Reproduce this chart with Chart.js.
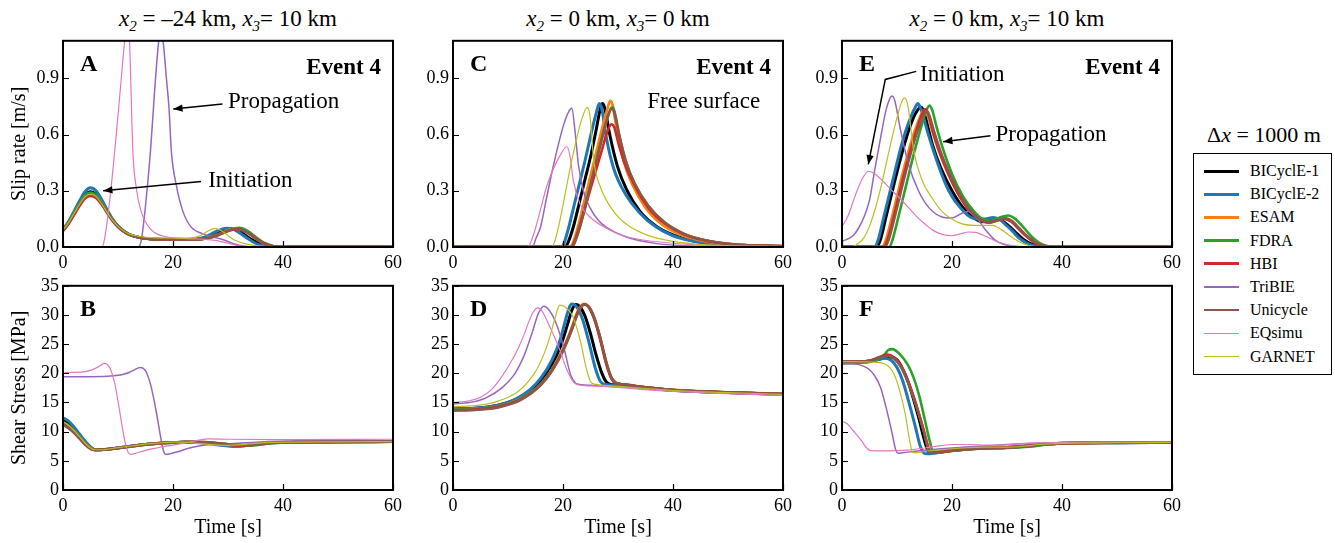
<!DOCTYPE html>
<html>
<head>
<meta charset="utf-8">
<script src="https://cdn.jsdelivr.net/npm/chart.js@4.4.0/dist/chart.umd.min.js"></script>
<style>
  body { margin: 0; width: 1335px; height: 543px; overflow: hidden; background: #fff; position: relative;
         font-family: "Liberation Serif", "Times New Roman", serif; color: #000; }
  canvas { position: absolute; }
  .coltitle { position: absolute; top: 4px; font-size: 23px; line-height: 30px; white-space: nowrap; transform: translateX(-50%); }
  .coltitle sub { font-size: 0.65em; vertical-align: -0.35em; line-height: 0; font-style: italic; }
  #legtitle { position: absolute; left: 1264px; top: 121px; font-size: 22px; line-height: 28px; white-space: nowrap; transform: translateX(-50%); }
  #legend { position: absolute; left: 1193px; top: 153px; width: 137px; height: 220px; border: 1.5px solid #000; }
  .row { position: absolute; left: 0; height: 22px; width: 137px; }
  .row span.ln { position: absolute; left: 10px; width: 35px; }
  .row span.tx { position: absolute; left: 56px; top: 0; font-size: 16px; line-height: 22px; white-space: nowrap; }
</style>
</head>
<body>
<div class="coltitle" style="left:228px"><i>x</i><sub>2</sub> = &ndash;24 km, <i>x</i><sub>3</sub>= 10 km</div>
<div class="coltitle" style="left:618px"><i>x</i><sub>2</sub> = 0 km, <i>x</i><sub>3</sub>= 0 km</div>
<div class="coltitle" style="left:1007px"><i>x</i><sub>2</sub> = 0 km, <i>x</i><sub>3</sub>= 10 km</div>

<canvas id="pA" width="406" height="251" style="left:1px;top:26px"></canvas>
<canvas id="pC" width="406" height="251" style="left:391px;top:26px"></canvas>
<canvas id="pE" width="406" height="251" style="left:780px;top:26px"></canvas>
<canvas id="pB" width="406" height="269" style="left:1px;top:271px"></canvas>
<canvas id="pD" width="406" height="269" style="left:391px;top:271px"></canvas>
<canvas id="pF" width="406" height="269" style="left:780px;top:271px"></canvas>

<div id="legtitle">&Delta;<i>x</i> = 1000 m</div>
<div id="legend"></div>

<script>
// series in legend order
const seriesNames = ['BICyclE-1', 'BICyclE-2', 'ESAM', 'FDRA', 'HBI', 'TriBIE', 'Unicycle', 'EQsimu', 'GARNET'];
const seriesColors = ['#000000', '#1f77b4', '#ff7f0e', '#2ca02c', '#d62728', '#9467bd', '#8c564b', '#e377c2', '#bcbd22'];
const seriesWidths = [3, 3, 2.7, 2.6, 2.6, 1.5, 2.6, 1.2, 1.2];

const timeTicks = [0, 20, 40, 60];
const slipTicks = [0, 0.3, 0.6, 0.9];
const stressTicks = [0, 5, 10, 15, 20, 25, 30, 35];

// A: slip rate, x2 = -24 km, x3 = 10 km   [time s, m/s]
const slipA = [
  [[0,0.09],[1,0.13],[2,0.18],[3,0.23],[4,0.275],[5,0.295],[6,0.28],[7,0.24],[8,0.19],[9,0.145],[10,0.11],[11,0.085],[12,0.068],[14,0.05],[16,0.043],[20,0.04],[24,0.042],[26,0.05],[28,0.075],[29,0.088],[30.5,0.097],[32,0.085],[33,0.066],[34,0.045],[35,0.028],[36,0.014],[37,0.006],[38.5,0.001],[40,0],[60,0]],
  [[0,0.095],[1,0.135],[2,0.19],[3,0.245],[4,0.295],[5,0.316],[6,0.3],[7,0.255],[8,0.2],[9,0.15],[10,0.112],[11,0.086],[12,0.068],[14,0.05],[16,0.043],[20,0.04],[24,0.043],[26,0.055],[27,0.07],[28,0.085],[29.8,0.1],[31,0.094],[32,0.078],[33,0.057],[34,0.037],[35,0.02],[36,0.009],[37.5,0.002],[39,0],[60,0]],
  [[0,0.088],[1,0.128],[2,0.178],[3,0.228],[4,0.27],[5,0.285],[6,0.272],[7,0.235],[8,0.187],[9,0.143],[10,0.108],[11,0.084],[12,0.067],[14,0.05],[16,0.043],[20,0.039],[24,0.04],[26,0.046],[28,0.065],[29,0.078],[30,0.09],[31.5,0.1],[33,0.088],[34,0.068],[35,0.046],[36,0.027],[37,0.013],[38,0.005],[39.5,0],[60,0]],
  [[0,0.09],[1,0.13],[2,0.18],[3,0.232],[4,0.275],[5,0.29],[6,0.277],[7,0.238],[8,0.19],[9,0.145],[10,0.11],[11,0.085],[12,0.068],[14,0.05],[16,0.043],[20,0.039],[24,0.04],[26,0.045],[28,0.06],[29,0.073],[30,0.086],[31,0.097],[32,0.102],[33,0.095],[34,0.077],[35,0.054],[36,0.033],[37,0.017],[38,0.007],[39,0.002],[40,0],[60,0]],
  [[0,0.085],[1,0.122],[2,0.17],[3,0.218],[4,0.258],[5,0.272],[6,0.262],[7,0.228],[8,0.183],[9,0.14],[10,0.107],[11,0.083],[12,0.066],[14,0.05],[16,0.043],[20,0.039],[24,0.04],[26,0.045],[28,0.062],[29,0.074],[30,0.085],[31.7,0.096],[33,0.086],[34,0.068],[35,0.047],[36,0.028],[37,0.014],[38,0.005],[39.5,0],[60,0]],
  [[0,0],[13.6,0],[14.2,0.03],[15,0.22],[15.9,0.51],[16.7,0.85],[17.4,1.1],[17.8,1.17],[18.2,1.1],[18.8,0.9],[19.3,0.73],[19.7,0.51],[20.6,0.33],[21.8,0.19],[23.3,0.106],[25.5,0.07],[27,0.055],[29,0.04],[31,0.018],[33,0.004],[35,0],[60,0]],
  [[0,0.087],[1,0.126],[2,0.175],[3,0.225],[4,0.266],[5,0.28],[6,0.268],[7,0.232],[8,0.185],[9,0.142],[10,0.108],[11,0.084],[12,0.067],[14,0.05],[16,0.043],[20,0.039],[24,0.04],[26,0.045],[28,0.062],[29,0.075],[30,0.087],[31.5,0.095],[33,0.085],[34,0.067],[35,0.046],[36,0.027],[37,0.013],[38,0.005],[39.5,0],[60,0]],
  [[0,0],[7.1,0],[7.6,0.05],[8.5,0.25],[9.4,0.51],[10.3,0.8],[11.2,1.1],[11.65,1.22],[12.1,1.1],[12.4,0.8],[12.7,0.51],[13.3,0.32],[14.2,0.19],[15.8,0.1],[18,0.06],[22,0.046],[26,0.04],[28,0.034],[30,0.02],[32,0.006],[34,0],[60,0]],
  [[0,0.09],[1,0.13],[2,0.18],[3,0.228],[4,0.268],[5,0.282],[6,0.27],[7,0.232],[8,0.186],[9,0.143],[10,0.11],[11,0.086],[12,0.07],[14,0.056],[16,0.05],[20,0.048],[23,0.047],[24.5,0.055],[25.5,0.07],[26.5,0.088],[27.5,0.098],[28.5,0.092],[29.5,0.072],[30.5,0.05],[31.5,0.033],[33,0.018],[35,0.007],[37,0.002],[38,0],[60,0]]
];

// B: shear stress, x2 = -24 km, x3 = 10 km   [time s, MPa]
const stressB = [
  [[0,11.9],[1,11.3],[2,10.4],[3,9.3],[4,8.2],[5,7.3],[5.8,6.9],[7,6.9],[10,7.2],[12,7.45],[14,7.7],[16,7.9],[18,8.05],[20,8.15],[22,8.2],[24,8.2],[26,8.1],[28,7.9],[30,7.65],[31.5,7.55],[33,7.6],[35,7.85],[38,8.1],[42,8.2],[50,8.25],[60,8.3]],
  [[0,12.4],[1,11.8],[2,10.8],[3,9.6],[4,8.4],[5,7.4],[5.8,6.9],[7,6.9],[10,7.2],[12,7.45],[14,7.7],[16,7.9],[18,8.05],[20,8.15],[22,8.2],[24,8.15],[26,8.0],[28,7.75],[30,7.55],[31,7.5],[33,7.65],[35,7.9],[38,8.1],[42,8.2],[50,8.25],[60,8.3]],
  [[0,11.6],[1,11.0],[2,10.1],[3,9.1],[4,8.0],[5,7.2],[5.8,6.9],[7,6.9],[10,7.2],[12,7.45],[14,7.7],[16,7.9],[18,8.05],[20,8.15],[22,8.2],[24,8.22],[26,8.15],[28,7.98],[30,7.75],[32,7.6],[33.5,7.62],[35.5,7.85],[38,8.1],[42,8.2],[50,8.25],[60,8.3]],
  [[0,11.6],[1,11.0],[2,10.1],[3,9.1],[4,8.0],[5,7.2],[5.8,6.9],[7,6.9],[10,7.2],[12,7.45],[14,7.7],[16,7.9],[18,8.05],[20,8.15],[22,8.2],[24,8.22],[26,8.18],[28,8.02],[30,7.8],[32,7.62],[34,7.6],[36,7.8],[38,8.05],[42,8.2],[50,8.25],[60,8.3]],
  [[0,11.2],[1,10.7],[2,9.9],[3,8.9],[4,7.9],[5,7.1],[5.8,6.85],[7,6.9],[10,7.2],[12,7.45],[14,7.7],[16,7.9],[18,8.05],[20,8.15],[22,8.2],[24,8.22],[26,8.15],[28,7.98],[30,7.75],[32,7.6],[33.5,7.62],[35.5,7.85],[38,8.1],[42,8.2],[50,8.25],[60,8.3]],
  [[0,19.4],[4,19.42],[8,19.5],[10,19.65],[11,19.85],[12,20.15],[13,20.6],[14,21.0],[14.6,20.85],[15.2,20.1],[16,17.8],[17,13.2],[17.8,8.8],[18.3,6.6],[18.7,6.1],[19.5,6.2],[21,6.6],[23,7.2],[25,7.6],[27,7.8],[30,7.9],[35,8.2],[40,8.35],[50,8.4],[60,8.4]],
  [[0,11.2],[1,10.6],[2,9.8],[3,8.8],[4,7.8],[5,7.05],[5.8,6.85],[7,6.9],[10,7.2],[12,7.45],[14,7.7],[16,7.9],[18,8.05],[20,8.15],[22,8.22],[24,8.25],[26,8.2],[28,8.05],[30,7.85],[32,7.7],[34,7.7],[36,7.9],[38,8.1],[42,8.2],[50,8.25],[60,8.3]],
  [[0,20.1],[2,20.15],[4,20.3],[5,20.5],[6,20.9],[7,21.45],[7.5,21.7],[8,21.55],[8.6,20.8],[9.4,18.3],[10.3,13.5],[11.2,8.6],[11.8,6.5],[12.3,6.1],[13,6.25],[15,6.8],[17,7.2],[19,7.55],[21,7.85],[23,8.2],[25,8.6],[26.5,8.75],[30,8.7],[40,8.65],[60,8.7]],
  [[0,11.7],[1,11.1],[2,10.2],[3,9.15],[4,8.05],[5,7.2],[5.8,6.9],[7,6.9],[10,7.25],[12,7.5],[14,7.75],[16,7.95],[18,8.1],[20,8.2],[22,8.2],[24,8.05],[26,7.85],[28,7.7],[30,7.65],[32,7.75],[35,8.0],[38,8.15],[42,8.2],[50,8.25],[60,8.3]]
];

// C: slip rate, x2 = 0 km, x3 = 0 km (free surface)
const slipC = [
  [[0,0],[20.4,0],[21,0.03],[22,0.12],[23,0.24],[24,0.36],[25,0.48],[26,0.62],[26.8,0.74],[27.2,0.765],[27.6,0.74],[28.5,0.6],[29.9,0.43],[31.5,0.31],[34,0.19],[37,0.11],[40,0.065],[44,0.03],[50,0.01],[60,0.003]],
  [[0,0],[19.8,0],[20.3,0.03],[21,0.1],[22,0.22],[23,0.34],[24,0.46],[25,0.59],[26,0.71],[26.6,0.765],[27.1,0.73],[27.9,0.58],[29.2,0.42],[31,0.3],[34,0.18],[37,0.105],[40,0.06],[44.8,0.025],[50,0.01],[60,0.003]],
  [[0,0],[21.3,0],[21.9,0.03],[23,0.14],[24,0.26],[25,0.38],[26,0.5],[27,0.62],[28,0.73],[28.6,0.78],[29,0.76],[29.8,0.62],[31,0.46],[32.5,0.34],[35,0.21],[38,0.12],[41,0.07],[45,0.035],[50,0.013],[60,0.004]],
  [[0,0],[21.6,0],[22.2,0.03],[23,0.1],[24,0.21],[25,0.33],[26,0.45],[27,0.57],[28,0.68],[28.7,0.74],[29,0.745],[29.4,0.72],[30.2,0.6],[31.4,0.46],[33,0.34],[35.5,0.22],[38.5,0.13],[42,0.07],[46,0.035],[52,0.012],[60,0.005]],
  [[0,0],[21.5,0],[22.1,0.03],[23,0.11],[24,0.21],[25,0.31],[26,0.41],[27,0.51],[28,0.61],[28.8,0.655],[29.3,0.64],[30.1,0.55],[31.3,0.44],[33,0.33],[35.5,0.21],[38.5,0.125],[42,0.068],[46,0.034],[52,0.012],[60,0.005]],
  [[0,0],[14.5,0],[15,0.04],[15.9,0.105],[17,0.26],[18.3,0.44],[20.1,0.65],[21,0.72],[21.6,0.74],[22.2,0.615],[22.8,0.44],[23.7,0.3],[24.9,0.21],[26.5,0.14],[27.9,0.105],[31.5,0.053],[37,0.018],[42,0.007],[50,0.002],[60,0]],
  [[0,0],[21.6,0],[22.2,0.03],[23,0.1],[24,0.21],[25,0.33],[26,0.45],[27,0.57],[28,0.68],[28.9,0.74],[29.4,0.71],[30.2,0.6],[31.4,0.46],[33,0.34],[35.5,0.22],[38.5,0.13],[42,0.07],[46,0.035],[52,0.012],[60,0.005]],
  [[0,0],[13.6,0],[14.2,0.03],[15,0.1],[16,0.21],[17,0.32],[18.3,0.42],[19.5,0.49],[20.7,0.536],[21.3,0.48],[21.9,0.35],[23.1,0.23],[24.9,0.16],[27.9,0.1],[31,0.06],[34,0.04],[40,0.02],[48,0.007],[60,0.002]],
  [[0,0],[17.9,0],[18.5,0.03],[19.5,0.15],[20.5,0.3],[21.5,0.45],[22.5,0.58],[23.5,0.69],[24.4,0.745],[24.9,0.7],[25.6,0.46],[26.8,0.32],[29.2,0.19],[31.6,0.12],[35.2,0.065],[40,0.03],[46,0.012],[60,0.003]]
];

// D: shear stress, x2 = 0 km, x3 = 0 km
const stressD = [
  [[0,13.9],[4,14.0],[8,14.5],[10,15.0],[12,15.8],[14,17.0],[16,18.8],[18,21.5],[19.5,24.5],[20.8,28.3],[21.6,30.8],[22.3,31.8],[23,31.5],[24,29.8],[25,26.8],[26,23.2],[27,20.2],[27.8,18.6],[28.5,18.15],[30,18.0],[35,17.5],[40,17.1],[50,16.7],[60,16.4]],
  [[0,13.9],[4,14.0],[8,14.5],[10,15.0],[12,15.9],[14,17.2],[16,19.2],[18,22.3],[19.5,25.8],[20.5,29.3],[21.1,31.2],[21.6,31.9],[22.3,31.6],[23.5,29.4],[24.7,25.4],[25.9,20.8],[26.8,18.6],[27.7,18.1],[30,17.95],[35,17.5],[40,17.1],[50,16.7],[60,16.4]],
  [[0,13.8],[4,13.9],[8,14.3],[10,14.8],[12,15.5],[14,16.6],[16,18.2],[18,20.7],[20,24.2],[21.5,27.6],[22.6,30.5],[23.3,31.6],[23.9,31.9],[24.6,31.5],[25.6,29.6],[26.7,26.2],[27.8,22.0],[28.8,19.2],[29.6,18.3],[31,18.1],[35,17.6],[40,17.15],[50,16.75],[60,16.45]],
  [[0,13.8],[4,13.9],[8,14.3],[10,14.8],[12,15.5],[14,16.6],[16,18.2],[18,20.6],[20,24.0],[21.5,27.4],[22.7,30.4],[23.4,31.5],[24,31.8],[24.7,31.4],[25.7,29.5],[26.8,26.0],[27.9,21.8],[28.9,19.1],[29.8,18.3],[31,18.1],[35,17.6],[40,17.15],[50,16.75],[60,16.45]],
  [[0,13.7],[4,13.8],[8,14.2],[10,14.7],[12,15.4],[14,16.5],[16,18.1],[18,20.5],[20,23.9],[21.5,27.3],[22.6,30.3],[23.3,31.5],[23.9,31.8],[24.6,31.4],[25.6,29.5],[26.7,26.0],[27.8,21.8],[28.8,19.1],[29.6,18.3],[31,18.1],[35,17.6],[40,17.15],[50,16.75],[60,16.45]],
  [[0,14.8],[3,15.0],[6,15.8],[9,17.6],[11,19.6],[12,21.2],[13,23.2],[14.4,27.0],[15.5,30.2],[16.5,31.5],[17.5,30.8],[18.7,28.7],[20.2,24.2],[21.4,19.7],[22.3,18.3],[23,18.1],[26,17.9],[30,17.7],[35,17.35],[40,17.0],[50,16.6],[60,16.3]],
  [[0,13.6],[4,13.7],[8,14.1],[10,14.6],[12,15.3],[14,16.4],[16,18.0],[18,20.4],[20,23.8],[21.5,27.2],[22.7,30.3],[23.4,31.5],[24,31.8],[24.7,31.4],[25.7,29.5],[26.8,26.0],[27.9,21.8],[28.9,19.1],[29.8,18.3],[31,18.1],[35,17.6],[40,17.15],[50,16.75],[60,16.45]],
  [[0,15.0],[3,15.3],[5,15.9],[7,17.2],[9,19.6],[11,22.7],[12,24.6],[13,26.8],[13.8,28.9],[14.6,30.5],[15.3,31.2],[16,30.9],[17.5,28.2],[19.3,24.3],[20.8,20.4],[22,18.4],[23,18.0],[26,17.8],[30,17.6],[35,17.2],[40,16.9],[50,16.5],[60,16.2]],
  [[0,14.3],[4,14.45],[7,14.9],[9,15.5],[12,17.0],[15,20.3],[16.5,23.2],[17.5,25.9],[18.5,29.3],[19.4,31.7],[20.3,31.4],[21.7,29.9],[23.2,25.4],[24.1,21.4],[25,18.6],[25.9,18.1],[28,17.9],[30,17.75],[35,17.4],[40,17.05],[50,16.7],[60,16.4]]
];

// E: slip rate, x2 = 0 km, x3 = 10 km
const slipE = [
  [[0,0],[6.3,0],[7,0.04],[8,0.16],[9,0.28],[10,0.4],[11,0.51],[12,0.61],[13,0.69],[14,0.74],[14.4,0.745],[14.9,0.72],[15.7,0.63],[16.5,0.54],[18,0.42],[20,0.3],[22,0.21],[24,0.155],[25.5,0.135],[27.3,0.15],[28.5,0.148],[30,0.12],[31.5,0.08],[33,0.04],[34.5,0.015],[36,0.003],[37,0],[60,0]],
  [[0,0],[5.9,0],[6.6,0.04],[7.6,0.16],[8.6,0.28],[9.6,0.4],[10.6,0.52],[11.6,0.62],[12.6,0.7],[13.4,0.75],[13.8,0.765],[14.3,0.74],[15.8,0.59],[17.6,0.43],[19.4,0.3],[21.8,0.2],[24.2,0.15],[26,0.15],[27.5,0.158],[28.8,0.145],[29.7,0.12],[31,0.085],[32.1,0.05],[33.5,0.022],[34.5,0.01],[36.4,0],[60,0]],
  [[0,0],[7.3,0],[8,0.04],[9,0.15],[10,0.27],[11,0.39],[12,0.5],[13,0.6],[14,0.68],[14.6,0.72],[15,0.73],[15.5,0.71],[16.3,0.63],[17.5,0.52],[19,0.41],[21,0.29],[23,0.2],[25,0.15],[26.5,0.135],[28,0.145],[29.5,0.155],[30.8,0.14],[32,0.105],[33.5,0.06],[35,0.025],[36.5,0.007],[38,0],[60,0]],
  [[0,0],[8.6,0],[9.2,0.04],[10,0.13],[11,0.25],[12,0.37],[13,0.49],[14,0.6],[15,0.7],[15.6,0.745],[15.9,0.755],[16.4,0.73],[17.2,0.64],[18.4,0.52],[20,0.39],[22,0.27],[24,0.19],[25.5,0.15],[27,0.14],[28.5,0.155],[30.2,0.168],[31.5,0.15],[33,0.105],[34.5,0.055],[36,0.02],[37.5,0.004],[39,0],[60,0]],
  [[0,0],[7.6,0],[8.3,0.04],[9.3,0.15],[10.3,0.27],[11.3,0.39],[12.3,0.5],[13.3,0.6],[14.3,0.69],[14.9,0.73],[15.2,0.735],[15.7,0.71],[16.5,0.62],[17.7,0.51],[19.2,0.4],[21,0.29],[23,0.2],[25,0.145],[26.5,0.13],[28,0.14],[29.5,0.15],[30.8,0.135],[32,0.1],[33.5,0.057],[35,0.024],[36.5,0.006],[38,0],[60,0]],
  [[0,0.03],[2,0.06],[3,0.1],[4,0.16],[5,0.25],[6,0.42],[7,0.58],[8,0.73],[8.6,0.785],[9.1,0.805],[9.6,0.78],[10.6,0.63],[12.1,0.44],[13.9,0.3],[15.8,0.21],[18.2,0.16],[20,0.155],[21.8,0.18],[23,0.19],[24.2,0.165],[26,0.095],[27.9,0.035],[29.7,0.012],[31,0.003],[32,0],[60,0]],
  [[0,0],[7.8,0],[8.5,0.04],[9.5,0.15],[10.5,0.27],[11.5,0.39],[12.5,0.5],[13.5,0.6],[14.5,0.68],[15.1,0.72],[15.4,0.725],[15.9,0.7],[16.7,0.62],[17.9,0.51],[19.4,0.4],[21.2,0.29],[23.2,0.2],[25.2,0.145],[26.7,0.13],[28.2,0.14],[29.7,0.152],[31,0.137],[32.2,0.1],[33.7,0.057],[35.2,0.024],[36.7,0.006],[38,0],[60,0]],
  [[0,0.11],[1,0.16],[2,0.24],[3,0.32],[4,0.38],[4.85,0.404],[6,0.39],[7.5,0.35],[9.1,0.3],[10.5,0.26],[12.1,0.21],[13.5,0.165],[15.2,0.12],[16.5,0.09],[18.2,0.067],[20,0.06],[21.5,0.07],[23,0.08],[24.3,0.078],[25.5,0.065],[27,0.045],[28.5,0.025],[30,0.013],[31.5,0.006],[33,0.002],[35,0],[60,0]],
  [[0,0],[1.8,0],[3,0.02],[4,0.05],[5,0.11],[6,0.2],[7,0.31],[8,0.44],[9,0.57],[10,0.69],[10.8,0.77],[11.4,0.795],[12,0.75],[13,0.52],[14.5,0.36],[16.4,0.26],[18.2,0.19],[21.2,0.13],[24.2,0.115],[27.3,0.115],[29.1,0.09],[30.5,0.06],[31.5,0.04],[33,0.017],[34.5,0.005],[36,0],[60,0]]
];

// F: shear stress, x2 = 0 km, x3 = 10 km
const stressF = [
  [[0,21.9],[3,21.95],[5,22.1],[7,22.5],[8.8,22.8],[10,22.3],[11,20.8],[12,18.6],[13,15.6],[14,12.2],[14.8,9.2],[15.5,7.0],[15.9,6.4],[17,6.45],[20,6.8],[25,7.2],[30,7.3],[33,7.5],[36,7.8],[40,8.0],[50,8.1],[60,8.15]],
  [[0,21.8],[3,21.85],[5,22.0],[6.5,22.3],[7.8,22.6],[9,22.2],[10,21.0],[11,18.8],[12.4,14.2],[13.4,10.6],[14.2,7.6],[14.8,6.4],[15.3,6.2],[17,6.35],[20,6.75],[25,7.15],[30,7.3],[33,7.45],[36,7.75],[40,8.0],[50,8.1],[60,8.15]],
  [[0,22.0],[3,22.0],[5,22.15],[6.8,22.7],[8.2,23.1],[9.5,22.6],[10.8,21.0],[12,18.6],[13,16.0],[14,13.0],[15,9.8],[15.7,7.4],[16.2,6.4],[17.5,6.45],[20,6.75],[25,7.15],[30,7.3],[33,7.5],[36,7.8],[40,8.0],[50,8.1],[60,8.15]],
  [[0,21.7],[3,21.8],[5,22.0],[6.5,22.4],[7.8,23.3],[8.4,24.0],[9.1,24.15],[10.5,23.3],[12,21.4],[13,19.3],[14,16.3],[15,12.3],[16,8.2],[16.6,6.5],[17.5,6.45],[20,6.75],[25,7.1],[30,7.2],[34,7.4],[37,7.75],[40,8.0],[50,8.1],[60,8.15]],
  [[0,22.0],[3,22.0],[5,22.15],[6.8,22.8],[8.2,23.2],[9.5,22.7],[10.8,21.2],[12,18.7],[13,16.1],[14,13.0],[15,9.6],[15.6,7.4],[16.1,6.4],[17.5,6.45],[20,6.75],[25,7.15],[30,7.3],[33,7.5],[36,7.8],[40,8.0],[50,8.1],[60,8.15]],
  [[0,21.7],[2,21.65],[4,21.2],[5,20.6],[6,19.5],[7,17.6],[8,14.2],[9,10.2],[9.8,6.8],[10.2,6.3],[11,6.4],[13,6.6],[15,6.8],[20,7.2],[25,7.5],[30,7.8],[35,8.0],[40,8.1],[50,8.15],[60,8.2]],
  [[0,22.0],[3,22.0],[5,22.1],[6.8,22.7],[8.2,23.0],[9.5,22.5],[10.8,21.0],[12,18.5],[13,15.9],[14,12.9],[15,9.6],[15.6,7.3],[16.1,6.35],[17.5,6.4],[20,6.7],[25,7.1],[30,7.25],[33,7.45],[36,7.75],[40,8.0],[50,8.1],[60,8.15]],
  [[0,11.8],[1,11.3],[2,10.2],[3.5,8.5],[4.5,7.2],[5.2,6.75],[7,6.7],[10,6.75],[12,6.85],[15,7.2],[18,7.6],[20,7.8],[23,7.8],[26,7.7],[28,7.65],[32,7.9],[35,8.05],[40,8.15],[50,8.2],[60,8.2]],
  [[0,22.0],[4,21.95],[6,21.9],[8,21.5],[9.5,19.8],[10.5,17.0],[11.5,13.0],[12.3,8.5],[12.8,6.5],[13.3,6.35],[15,6.6],[18,6.9],[22,7.2],[26,7.35],[30,7.35],[33,7.5],[36,7.8],[40,8.0],[50,8.1],[60,8.15]]
];

const FONT = '"Liberation Serif", "Times New Roman", serif';

// frame, inward ticks, panel letters and annotations
const panelDecor = {
  id: 'panelDecor',
  afterDatasetsDraw(chart, args, opts) {
    const {ctx, chartArea: a, scales: {x, y}} = chart;
    ctx.save();
    ctx.strokeStyle = '#000';
    ctx.fillStyle = '#000';
    ctx.lineWidth = 1.2;
    ctx.beginPath();
    x.ticks.forEach(t => {
      const px = Math.round(x.getPixelForValue(t.value)) + 0.5;
      ctx.moveTo(px, a.bottom); ctx.lineTo(px, a.bottom - 6);
    });
    y.ticks.forEach(t => {
      const py = Math.round(y.getPixelForValue(t.value)) + 0.5;
      ctx.moveTo(a.left, py); ctx.lineTo(a.left + 6, py);
    });
    ctx.stroke();
    ctx.lineWidth = 2;
    ctx.strokeRect(a.left, a.top, a.right - a.left, a.bottom - a.top);

    ctx.textBaseline = 'middle';
    ctx.font = 'bold 24px ' + FONT;
    ctx.textAlign = 'left';
    ctx.fillText(opts.letter, a.left + 17, a.top + 24);
    if (opts.event) {
      ctx.font = 'bold 23px ' + FONT;
      ctx.textAlign = 'right';
      ctx.fillText(opts.event, a.right - 12, a.top + 27);
    }
    ctx.font = '23px ' + FONT;
    ctx.textAlign = 'left';
    (opts.notes || []).forEach(n => {
      ctx.fillText(n.text, x.getPixelForValue(n.at[0]), y.getPixelForValue(n.at[1]));
    });
    ctx.lineWidth = 1.5;
    (opts.arrows || []).forEach(pts => {
      const p = pts.map(q => [x.getPixelForValue(q[0]), y.getPixelForValue(q[1])]);
      ctx.beginPath();
      ctx.moveTo(p[0][0], p[0][1]);
      for (let i = 1; i < p.length; i++) ctx.lineTo(p[i][0], p[i][1]);
      ctx.stroke();
      const [hx, hy] = p[p.length - 1], [px, py] = p[p.length - 2];
      const ang = Math.atan2(hy - py, hx - px);
      ctx.beginPath();
      ctx.moveTo(hx, hy);
      ctx.lineTo(hx - 10 * Math.cos(ang - 0.38), hy - 10 * Math.sin(ang - 0.38));
      ctx.lineTo(hx - 10 * Math.cos(ang + 0.38), hy - 10 * Math.sin(ang + 0.38));
      ctx.closePath();
      ctx.fill();
    });
    ctx.restore();
  }
};

function makePanel(id, series, kind, withYTitle, decor) {
  const isSlip = kind === 'slip';
  const yTicks = isSlip ? slipTicks : stressTicks;
  return new Chart(document.getElementById(id), {
    type: 'line',
    data: {
      datasets: series.map((pts, i) => ({
        label: seriesNames[i],
        data: pts.map(p => ({x: p[0], y: p[1]})),
        borderColor: seriesColors[i],
        borderWidth: seriesWidths[i],
        pointRadius: 0,
        cubicInterpolationMode: 'monotone',
        fill: false,
        clip: 0,
        order: series.length - i
      }))
    },
    options: {
      responsive: false,
      animation: false,
      events: [],
      layout: {padding: {top: 12, right: 14, left: 0, bottom: 0}},
      plugins: {legend: {display: false}, tooltip: {enabled: false}, panelDecor: decor},
      scales: {
        x: {
          type: 'linear', min: 0, max: 60,
          grid: {display: false, drawTicks: false},
          border: {display: false},
          afterBuildTicks: s => { s.ticks = timeTicks.map(v => ({value: v})); },
          afterFit: s => { s.height = isSlip ? 30 : 50; },
          ticks: {padding: 5, color: '#000', font: {family: FONT, size: 18}, maxRotation: 0, callback: v => String(v)},
          title: {display: !isSlip, text: 'Time [s]', color: '#000', font: {family: FONT, size: 20}, padding: {top: 0, bottom: 0}}
        },
        y: {
          type: 'linear', min: 0, max: isSlip ? 1.1 : 35,
          grid: {display: false, drawTicks: false},
          border: {display: false},
          afterBuildTicks: s => { s.ticks = yTicks.map(v => ({value: v})); },
          afterFit: s => { s.width = 62; },
          ticks: {padding: 4, color: '#000', font: {family: FONT, size: 18},
                  callback: v => isSlip ? Number(v).toFixed(1) : String(v)},
          title: {display: withYTitle, text: isSlip ? 'Slip rate [m/s]' : 'Shear Stress [MPa]', color: '#000',
                  font: {family: FONT, size: 20}, padding: {top: 7, bottom: 0}}
        }
      }
    },
    plugins: [panelDecor]
  });
}

makePanel('pA', slipA, 'slip', true, {
  letter: 'A', event: 'Event 4',
  notes: [{text: 'Propagation', at: [30.0, 0.773]}, {text: 'Initiation', at: [26.4, 0.35]}],
  arrows: [[[29.0, 0.763], [20.05, 0.736]], [[25.1, 0.35], [7.3, 0.30]]]
});
makePanel('pB', stressB, 'stress', true, {letter: 'B'});
makePanel('pC', slipC, 'slip', false, {
  letter: 'C', event: 'Event 4',
  notes: [{text: 'Free surface', at: [35.3, 0.773]}]
});
makePanel('pD', stressD, 'stress', false, {letter: 'D'});
makePanel('pE', slipE, 'slip', false, {
  letter: 'E', event: 'Event 4',
  notes: [{text: 'Initiation', at: [14.2, 0.92]}, {text: 'Propagation', at: [27.9, 0.6]}],
  arrows: [[[13.5, 0.937], [7.87, 0.894], [4.78, 0.441]], [[27.0, 0.594], [18.4, 0.562]]]
});
makePanel('pF', stressF, 'stress', false, {letter: 'F'});

// legend
const legend = document.getElementById('legend');
seriesNames.forEach((name, i) => {
  const row = document.createElement('div');
  row.className = 'row';
  row.style.top = (6 + i * 23.2) + 'px';
  const ln = document.createElement('span');
  ln.className = 'ln';
  ln.style.background = seriesColors[i];
  ln.style.height = seriesWidths[i] + 'px';
  ln.style.top = (11 - seriesWidths[i] / 2) + 'px';
  const tx = document.createElement('span');
  tx.className = 'tx';
  tx.textContent = name;
  row.appendChild(ln);
  row.appendChild(tx);
  legend.appendChild(row);
});
</script>
</body>
</html>
